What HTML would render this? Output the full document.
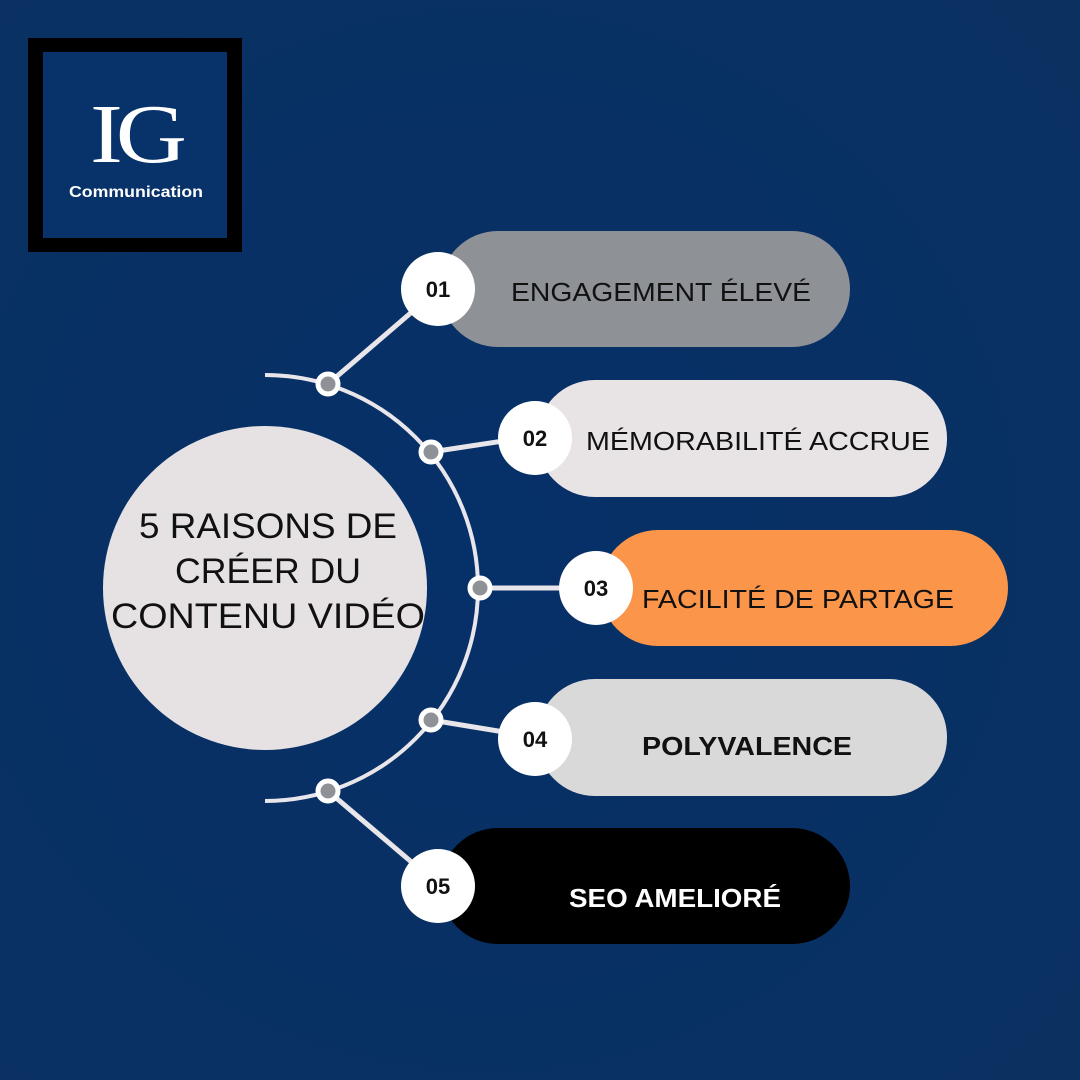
<!DOCTYPE html>
<html><head><meta charset="utf-8"><style>
html,body{margin:0;padding:0;background:#0a3266;}
svg{display:block}
</style></head><body>
<svg width="1080" height="1080" viewBox="0 0 1080 1080" xmlns="http://www.w3.org/2000/svg">
<defs>
<radialGradient id="bg" cx="0.45" cy="0.5" r="0.75">
<stop offset="0" stop-color="#063068"/><stop offset="1" stop-color="#0a3160"/>
</radialGradient>
</defs>
<rect width="1080" height="1080" fill="url(#bg)"/>
<!-- logo -->
<rect x="28" y="38" width="214" height="214" fill="#000"/>
<rect x="43" y="52" width="184" height="186" fill="#07326a"/>
<text x="135" y="162" text-anchor="middle" font-family="Liberation Serif, serif" font-size="84" fill="#fff" letter-spacing="-6" textLength="90" lengthAdjust="spacingAndGlyphs">IG</text>
<text x="136" y="197" text-anchor="middle" font-family="Liberation Sans, sans-serif" font-weight="bold" font-size="16" fill="#fff" textLength="134" lengthAdjust="spacingAndGlyphs">Communication</text>
<!-- big circle -->
<circle cx="265" cy="588" r="162" fill="#e6e2e4"/>
<g font-family="Liberation Sans, sans-serif" font-size="35" fill="#111" text-anchor="middle">
<text x="268" y="538" textLength="258" lengthAdjust="spacingAndGlyphs">5 RAISONS DE</text>
<text x="268" y="583" textLength="186" lengthAdjust="spacingAndGlyphs">CRÉER DU</text>
<text x="268" y="628" textLength="314" lengthAdjust="spacingAndGlyphs">CONTENU VIDÉO</text>
</g>
<!-- arc and connectors -->
<path d="M265,375 A213,213 0 0 1 265,801" fill="none" stroke="#e8e6ea" stroke-width="4"/>
<g stroke="#e8e6ea" stroke-width="5">
<line x1="328" y1="384" x2="420" y2="305"/>
<line x1="431" y1="452" x2="510" y2="440"/>
<line x1="480" y1="588" x2="570" y2="588"/>
<line x1="431" y1="720" x2="510" y2="733"/>
<line x1="328" y1="791" x2="415" y2="865"/>
</g>
<g fill="#8e9196" stroke="#fff" stroke-width="5">
<circle cx="328" cy="384" r="10"/><circle cx="431" cy="452" r="10"/><circle cx="480" cy="588" r="10"/><circle cx="431" cy="720" r="10"/><circle cx="328" cy="791" r="10"/>
</g>
<!-- pills -->
<rect x="440" y="231" width="410" height="116" rx="58" fill="#8e9196"/>
<rect x="537" y="380" width="410" height="117" rx="58" fill="#e8e4e6"/>
<rect x="600" y="530" width="408" height="116" rx="58" fill="#fb9549"/>
<rect x="537" y="679" width="410" height="117" rx="58" fill="#d9d9d9"/>
<rect x="440" y="828" width="410" height="116" rx="58" fill="#000"/>
<g fill="#fff">
<circle cx="438" cy="289" r="37"/><circle cx="535" cy="438" r="37"/><circle cx="596" cy="588" r="37"/><circle cx="535" cy="739" r="37"/><circle cx="438" cy="886" r="37"/>
</g>
<g font-family="Liberation Sans, sans-serif" font-size="22" font-weight="bold" fill="#111" text-anchor="middle">
<text x="438" y="297">01</text><text x="535" y="446">02</text><text x="596" y="596">03</text><text x="535" y="747">04</text><text x="438" y="894">05</text>
</g>
<g font-family="Liberation Sans, sans-serif" font-size="26" fill="#111" text-anchor="middle">
<text x="661" y="301" textLength="300" lengthAdjust="spacingAndGlyphs">ENGAGEMENT ÉLEVÉ</text>
<text x="758" y="450" textLength="344" lengthAdjust="spacingAndGlyphs">MÉMORABILITÉ ACCRUE</text>
<text x="798" y="608" textLength="312" lengthAdjust="spacingAndGlyphs">FACILITÉ DE PARTAGE</text>
<text x="747" y="755" font-weight="bold" textLength="210" lengthAdjust="spacingAndGlyphs">POLYVALENCE</text>
<text x="675" y="907" font-weight="bold" fill="#fff" textLength="212" lengthAdjust="spacingAndGlyphs">SEO AMELIORÉ</text>
</g>
</svg>
</body></html>
